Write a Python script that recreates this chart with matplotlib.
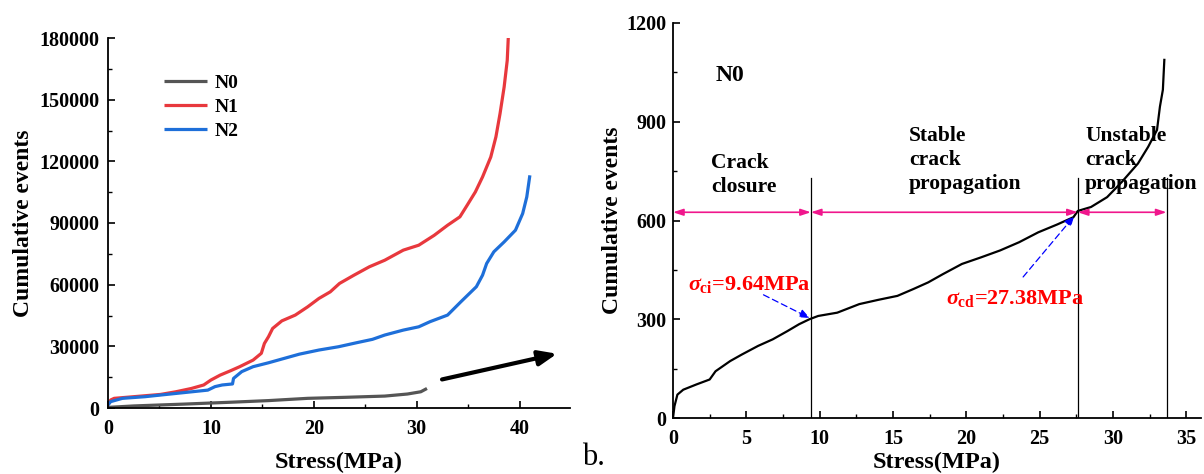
import matplotlib
matplotlib.use("Agg")
import matplotlib.pyplot as plt
from matplotlib.ticker import MultipleLocator

plt.rcParams['font.family'] = ['Liberation Serif', 'DejaVu Serif']
plt.rcParams['font.weight'] = 'bold'
plt.rcParams['mathtext.fontset'] = 'custom'
plt.rcParams['mathtext.it'] = 'Liberation Serif:italic:bold'
plt.rcParams['mathtext.rm'] = 'Liberation Serif:bold'
plt.rcParams['mathtext.bf'] = 'Liberation Serif:bold'

# ---- Left panel data ----
n0_x = [0, 2.5, 7.4, 11.9, 15.6, 19.4, 23.1, 26.9, 29.1, 30.4, 31.0]
n0_y = [300, 1000, 1900, 2800, 3600, 4700, 5200, 5800, 6800, 7900, 9500]

n1_x = [0, 0.26, 0.6, 2.5, 5.1, 6.6, 8.1, 9.3, 10.0, 10.9, 11.9, 12.8, 14.1, 14.9, 15.2,
        15.6, 16.0, 16.9, 18.2, 19.4, 20.5, 21.6, 22.5, 23.9, 25.4, 26.9, 28.7, 30.2,
        31.7, 33.0, 34.2, 34.9, 35.7, 36.4, 37.2, 37.7, 38.1, 38.5, 38.8, 38.9, 39.0]
n1_y = [1500, 3900, 4700, 5500, 6600, 7900, 9500, 11200, 13600, 16000, 18100, 20100, 23300,
        26600, 31400, 34700, 38700, 42400, 45200, 49200, 53300, 56500, 60600, 64600, 68700,
        71900, 76800, 79200, 84000, 88900, 93000, 98600, 105100, 112400, 122100, 131900,
        143200, 156200, 169100, 180000, 190000]

n2_x = [0, 0.26, 1.4, 3.6, 5.1, 7.4, 9.7, 10.4, 11.1, 12.1, 12.2, 13.0, 14.1, 15.6, 17.1,
        18.6, 20.5, 22.4, 24.2, 25.7, 26.9, 28.7, 30.2, 31.3, 33.0, 34.3, 35.8, 36.4, 36.8,
        37.5, 38.5, 39.6, 40.3, 40.7, 41.0]
n2_y = [1500, 3100, 4700, 5500, 6300, 7500, 8700, 10400, 11200, 11700, 14400, 17700, 20100,
        22000, 24100, 26200, 28200, 29800, 31800, 33400, 35500, 37900, 39500, 42000, 45200,
        51700, 59000, 64600, 70300, 76000, 80800, 86500, 94600, 102700, 113200]

series_names = ['N0', 'N1', 'N2']
series_colors = ['#555555', '#E8383D', '#1E6FD9']

# ---- Right panel data ----
r_x = [0, 0.1, 0.3, 0.7, 1.6, 2.5, 2.9, 3.9, 4.7, 5.8, 6.8, 7.8, 8.6, 9.3, 9.9, 11.2, 12.7,
       14.0, 15.3, 16.4, 17.4, 18.4, 19.7, 21.0, 22.3, 23.6, 24.9, 26.2, 27.3, 27.6, 28.5,
       29.6, 30.6, 31.7, 32.4, 33.0, 33.2, 33.4, 33.5]
r_y = [0, 36, 71, 86, 102, 117, 142, 173, 193, 219, 239, 264, 285, 300, 310, 320, 346, 359,
       371, 392, 412, 437, 468, 488, 509, 534, 564, 588, 610, 629, 641, 671, 717, 773, 824,
       875, 946, 997, 1088]

stage_bounds = [0, 9.4, 27.6, 33.65]
stage_y = 625
sigma_ci = 9.64
sigma_cd = 27.38

fig = plt.figure(figsize=(12.04, 4.74), dpi=100)

TICK_FS = 14.5

# ----- Left axes -----
ax1 = fig.add_axes([108/1204, 66/474, 462/1204, 370/474])
for xs, ys, nm, c in zip([n0_x, n1_x, n2_x], [n0_y, n1_y, n2_y], series_names, series_colors):
    ax1.plot(xs, ys, color=c, lw=2.3, label=nm, solid_capstyle='butt')
ax1.set_xlim(0, 44.9)
ax1.set_ylim(0, 180000)
ax1.xaxis.set_major_locator(MultipleLocator(10))
ax1.xaxis.set_minor_locator(MultipleLocator(5))
ax1.yaxis.set_major_locator(MultipleLocator(30000))
ax1.yaxis.set_minor_locator(MultipleLocator(15000))
ax1.spines['top'].set_visible(False)
ax1.spines['right'].set_visible(False)
for sp in ['left', 'bottom']:
    ax1.spines[sp].set_linewidth(1.3)
ax1.tick_params(which='major', direction='in', length=5, width=1.2, labelsize=TICK_FS)
ax1.tick_params(axis='x', which='major', pad=8)
ax1.tick_params(axis='y', which='major', pad=6)
ax1.tick_params(which='minor', direction='in', length=3, width=1.0)
ax1.set_xlabel('Stress(MPa)', fontsize=17.5, fontweight='bold', labelpad=9)
ax1.set_ylabel('Cumulative events', fontsize=17, fontweight='bold', labelpad=4)
for lab in ax1.get_xticklabels() + ax1.get_yticklabels():
    lab.set_fontweight('bold')
ax1.legend(loc='upper left', bbox_to_anchor=(0.083, 0.949), frameon=False,
           handlelength=2.2, handletextpad=0.4, labelspacing=0.32,
           prop={'weight': 'bold', 'size': 14})
ax1.annotate('', xy=(43.9, 26700), xytext=(32.2, 13600),
             arrowprops=dict(arrowstyle='-|>,head_length=1.1,head_width=0.45',
                             color='black', lw=3))

fig.text(582/1204, 2/474, 'b.', fontsize=22, fontweight='normal',
         ha='left', va='bottom')

# ----- Right axes -----
ax2 = fig.add_axes([673/1204, 56/474, 528/1204, 395/474])
ax2.plot(r_x, r_y, color='black', lw=1.6)
ax2.set_xlim(0, 36)
ax2.set_ylim(0, 1200)
ax2.xaxis.set_major_locator(MultipleLocator(5))
ax2.xaxis.set_minor_locator(MultipleLocator(2.5))
ax2.yaxis.set_major_locator(MultipleLocator(300))
ax2.yaxis.set_minor_locator(MultipleLocator(150))
ax2.spines['top'].set_visible(False)
ax2.spines['right'].set_visible(False)
for sp in ['left', 'bottom']:
    ax2.spines[sp].set_linewidth(1.3)
ax2.tick_params(which='major', direction='in', length=5, width=1.2, labelsize=TICK_FS)
ax2.tick_params(axis='x', which='major', pad=8)
ax2.tick_params(axis='y', which='major', pad=5)
ax2.tick_params(which='minor', direction='in', length=3, width=1.0)
ax2.set_xlabel('Stress(MPa)', fontsize=17.5, fontweight='bold', labelpad=2)
ax2.set_ylabel('Cumulative events', fontsize=17, fontweight='bold', labelpad=2)
for lab in ax2.get_xticklabels() + ax2.get_yticklabels():
    lab.set_fontweight('bold')

for xb in stage_bounds[1:]:
    ax2.plot([xb, xb], [0, 730], color='black', lw=0.9)
pink = '#F0168C'
for a, b in zip(stage_bounds[:-1], stage_bounds[1:]):
    ax2.annotate('', xy=(b, stage_y), xytext=(a, stage_y),
                 arrowprops=dict(arrowstyle='<|-|>,head_length=0.6,head_width=0.2',
                                 color=pink, lw=1.2, shrinkA=0, shrinkB=0))

ax2.text(2.9, 1042, 'N0', fontsize=17, fontweight='bold', va='center', ha='left')
ax2.text(2.6, 738, 'Crack\nclosure', fontsize=15.5, fontweight='bold', va='center',
         ha='left', linespacing=1.25)
ax2.text(16.1, 784, 'Stable\ncrack\npropagation', fontsize=15.5, fontweight='bold',
         va='center', ha='left', linespacing=1.25)
ax2.text(28.1, 784, 'Unstable\ncrack\npropagation', fontsize=15.5, fontweight='bold',
         va='center', ha='left', linespacing=1.25)

ax2.text(1.0, 405, r'$\sigma_{\mathrm{ci}}$=9.64MPa', color='red', fontsize=16,
         fontweight='bold', va='center', ha='left')
ax2.text(18.6, 362, r'$\sigma_{\mathrm{cd}}$=27.38MPa', color='red', fontsize=16,
         fontweight='bold', va='center', ha='left')
ax2.annotate('', xy=(sigma_ci - 0.15, 300), xytext=(6.0, 378),
             arrowprops=dict(arrowstyle='-|>,head_length=0.6,head_width=0.25',
                             color='blue', lw=0.9, linestyle=(0, (5, 3))))
ax2.annotate('', xy=(sigma_cd + 0.1, 620), xytext=(23.75, 422),
             arrowprops=dict(arrowstyle='-|>,head_length=0.6,head_width=0.25',
                             color='blue', lw=0.9, linestyle=(0, (5, 3))))

fig.savefig('out.png', dpi=100)
